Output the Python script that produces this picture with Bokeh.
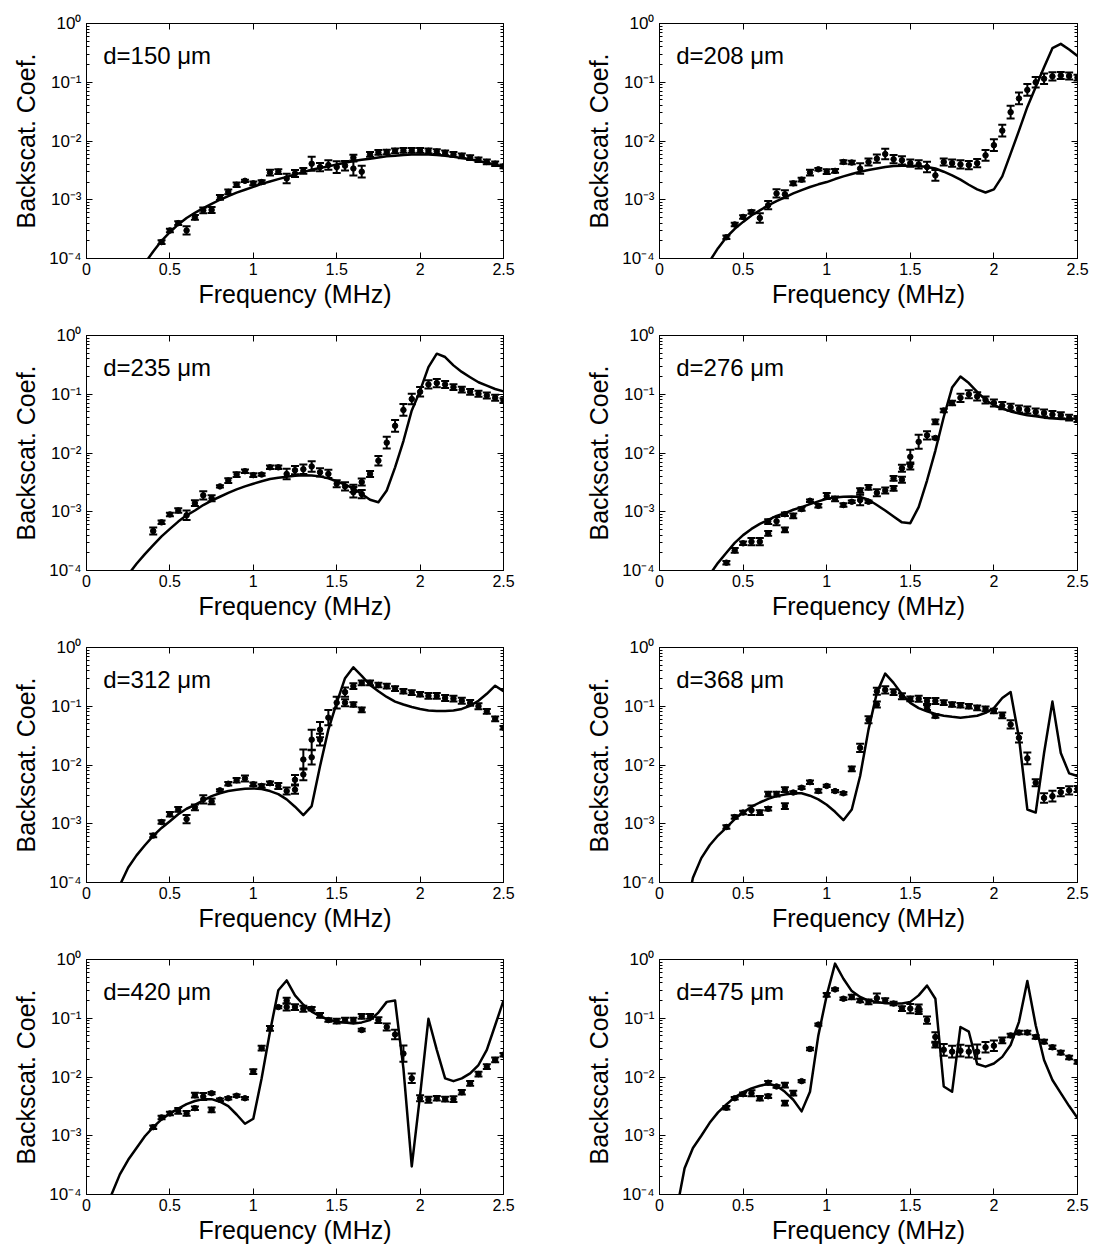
import numpy as np
from bokeh.plotting import figure
from bokeh.models import (Range1d, LinearAxis, LogAxis, FixedTicker, CustomJSTickFormatter,
                          Whisker, TeeHead, ColumnDataSource, Label)
from bokeh.layouts import column, row
from bokeh.embed import file_html
from bokeh.resources import INLINE

# ---------------- data ----------------
LABELS = ["d=150 \u03bcm", "d=208 \u03bcm", "d=235 \u03bcm", "d=276 \u03bcm",
          "d=312 \u03bcm", "d=368 \u03bcm", "d=420 \u03bcm", "d=475 \u03bcm"]

LINE_F = [0.10, 0.15, 0.20, 0.25, 0.30, 0.35, 0.40, 0.45, 0.50, 0.55, 0.60, 0.65, 0.70,
          0.75, 0.80, 0.85, 0.90, 0.95, 1.00, 1.05, 1.10, 1.15, 1.20, 1.25, 1.30, 1.35,
          1.40, 1.45, 1.50, 1.55, 1.60, 1.65, 1.70, 1.75, 1.80, 1.85, 1.90, 1.95, 2.00,
          2.05, 2.10, 2.15, 2.20, 2.25, 2.30, 2.35, 2.40, 2.45, 2.50]

PTS_F = [0.40, 0.45, 0.50, 0.55, 0.60, 0.65, 0.70, 0.75, 0.80, 0.85, 0.90, 0.95, 1.00,
         1.05, 1.10, 1.15, 1.20, 1.25, 1.30, 1.35, 1.40, 1.45, 1.50, 1.55, 1.60, 1.65,
         1.70, 1.75, 1.80, 1.85, 1.90, 1.95, 2.00, 2.05, 2.10, 2.15, 2.20, 2.25, 2.30,
         2.35, 2.40, 2.45, 2.50]

# theory curves (one value per LINE_F)
LINE_150 = [6.3e-7, 3.2e-6, 1.0e-5, 2.5e-5, 5.0e-5, 8.3e-5, 1.32e-4,
            2.0e-4, 2.8e-4, 3.8e-4, 4.9e-4, 6.0e-4, 7.2e-4, 8.5e-4, 1.0e-3, 1.15e-3, 1.32e-3, 1.48e-3, 1.66e-3,
            1.86e-3, 2.04e-3, 2.24e-3, 2.45e-3, 2.7e-3, 2.95e-3, 3.24e-3, 3.47e-3, 3.7e-3, 3.98e-3,
            4.27e-3, 4.57e-3, 4.79e-3, 5.0e-3, 5.25e-3, 5.5e-3, 5.62e-3, 5.75e-3, 5.9e-3, 5.9e-3,
            5.9e-3, 5.75e-3, 5.62e-3, 5.37e-3, 5.13e-3, 4.9e-3, 4.57e-3, 4.27e-3, 3.98e-3, 3.63e-3]
LINE_208 = [2e-6, 8e-6, 2.2e-5, 5e-5, 9e-5, 1.5e-4, 2.3e-4,
            3.2e-4, 4.2e-4, 5.4e-4, 6.6e-4, 8.0e-4, 9.5e-4, 1.1e-3, 1.28e-3, 1.46e-3, 1.65e-3, 1.83e-3, 2.0e-3,
            2.25e-3, 2.5e-3, 2.75e-3, 3.0e-3, 3.2e-3, 3.4e-3, 3.6e-3, 3.75e-3, 3.8e-3, 3.8e-3,
            3.75e-3, 3.6e-3, 3.4e-3, 3.0e-3, 2.6e-3, 2.2e-3, 1.8e-3, 1.5e-3, 1.33e-3, 1.5e-3,
            2.5e-3, 6.1e-3, 1.5e-2, 3.8e-2, 8.3e-2, 0.18, 0.38, 0.45, 0.36, 0.28]
LINE_235 = [3e-6, 1.2e-5, 3.5e-5, 8.5e-5, 1.3e-4, 1.9e-4, 2.7e-4,
            3.8e-4, 5.1e-4, 6.8e-4, 8.7e-4, 1.05e-3, 1.3e-3, 1.55e-3, 1.8e-3, 2.1e-3, 2.4e-3, 2.7e-3, 3.0e-3,
            3.3e-3, 3.6e-3, 3.8e-3, 3.95e-3, 4.1e-3, 4.2e-3, 4.15e-3, 4.0e-3, 3.7e-3, 3.3e-3,
            2.9e-3, 2.5e-3, 2.0e-3, 1.6e-3, 1.45e-3, 2.3e-3, 5.7e-3, 1.6e-2, 5.3e-2, 0.115,
            0.29, 0.49, 0.43, 0.31, 0.24, 0.195, 0.16, 0.14, 0.123, 0.112]
LINE_276 = [1.5e-6, 6e-6, 1.8e-5, 4.5e-5, 8.5e-5, 1.35e-4, 2.0e-4,
            2.95e-4, 4.0e-4, 5.1e-4, 6.2e-4, 7.3e-4, 8.5e-4, 9.5e-4, 1.08e-3, 1.2e-3, 1.35e-3, 1.5e-3, 1.66e-3,
            1.75e-3, 1.8e-3, 1.82e-3, 1.78e-3, 1.6e-3, 1.3e-3, 1.05e-3, 8.3e-4, 6.6e-4, 6.4e-4,
            1.2e-3, 3.4e-3, 1.1e-2, 4.1e-2, 0.13, 0.2, 0.155, 0.11, 0.08, 0.065,
            0.057, 0.051, 0.047, 0.044, 0.042, 0.04, 0.039, 0.038, 0.038, 0.039]
LINE_312 = [2e-6, 1.5e-5, 9e-5, 1.8e-4, 2.9e-4, 4.3e-4, 6.2e-4,
            8.5e-4, 1.1e-3, 1.45e-3, 1.8e-3, 2.1e-3, 2.5e-3, 2.95e-3, 3.3e-3, 3.6e-3, 3.8e-3, 3.95e-3, 4.0e-3,
            3.9e-3, 3.6e-3, 3.2e-3, 2.6e-3, 1.95e-3, 1.4e-3, 2.0e-3, 9.5e-3, 4.0e-2, 0.114,
            0.30, 0.46, 0.33, 0.23, 0.18, 0.144, 0.12, 0.107, 0.097, 0.09,
            0.085, 0.083, 0.083, 0.085, 0.09, 0.102, 0.124, 0.163, 0.224, 0.18]
LINE_368 = [3e-6, 2.5e-5, 1.2e-4, 2.6e-4, 4.3e-4, 6.3e-4, 8.6e-4,
            1.2e-3, 1.55e-3, 1.95e-3, 2.3e-3, 2.65e-3, 2.95e-3, 3.15e-3, 3.3e-3, 3.3e-3, 3.0e-3, 2.6e-3, 2.1e-3,
            1.6e-3, 1.15e-3, 1.75e-3, 6.5e-3, 4.0e-2, 0.17, 0.36, 0.25, 0.16, 0.114,
            0.093, 0.082, 0.074, 0.069, 0.066, 0.064, 0.066, 0.069, 0.077, 0.093,
            0.138, 0.175, 2.9e-2, 1.75e-3, 1.55e-3, 1.6e-2, 0.12, 1.6e-2, 7.2e-3, 6.5e-3]
LINE_420 = [8e-6, 1.0e-4, 2.2e-4, 3.9e-4, 6.2e-4, 9.8e-4, 1.4e-3,
            1.9e-3, 2.4e-3, 2.9e-3, 3.45e-3, 3.9e-3, 4.2e-3, 4.2e-3, 3.8e-3, 3.2e-3, 2.3e-3, 1.6e-3, 1.95e-3,
            9.5e-3, 5.9e-2, 0.3, 0.44, 0.245, 0.17, 0.13, 0.108, 0.095, 0.087,
            0.085, 0.081, 0.085, 0.093, 0.125, 0.19, 0.2, 1.4e-2, 3.0e-4, 4.9e-3,
            0.098, 2.9e-2, 9.5e-3, 8.5e-3, 9.5e-3, 1.15e-2, 1.6e-2, 2.9e-2, 7.6e-2, 0.2]
LINE_475 = [5e-5, 2.8e-4, 6.2e-4, 1.0e-3, 1.66e-3, 2.5e-3, 3.4e-3,
            4.5e-3, 5.5e-3, 6.4e-3, 7.1e-3, 7.6e-3, 7.1e-3, 5.6e-3, 4.1e-3, 2.6e-3, 5.6e-3, 5.1e-2, 0.245,
            0.85, 0.47, 0.29, 0.23, 0.2, 0.19, 0.18, 0.178, 0.178, 0.19,
            0.245, 0.36, 0.215, 6.9e-3, 5.6e-3, 0.071, 0.059, 1.66e-2, 1.5e-2, 1.7e-2,
            2.2e-2, 3.5e-2, 8.7e-2, 0.43, 0.076, 1.95e-2, 8.9e-3, 5.3e-3, 3.2e-3, 2.0e-3]

# measured points (one value per PTS_F) and error half-widths (decades)
PTS_150 = [None, 1.9e-4, 3.0e-4, 4.0e-4, 3.0e-4, 5.0e-4, 6.6e-4, 6.7e-4, 1.1e-3, 1.36e-3, 1.8e-3, 2.1e-3, 1.9e-3,
           2.0e-3, 2.9e-3, 3.0e-3, 2.3e-3, 2.8e-3, 3.1e-3, 4.1e-3, 3.6e-3, 3.9e-3, 3.6e-3, 3.8e-3, 3.4e-3, 3.0e-3,
           5.9e-3, 6.4e-3, 6.5e-3, 6.8e-3, 6.9e-3, 6.9e-3, 6.9e-3, 6.8e-3, 6.6e-3, 6.3e-3, 5.9e-3, 5.6e-3, 5.2e-3,
           4.8e-3, 4.4e-3, 4.1e-3, 3.7e-3]
ERR_150 = [0, .03, .03, .03, .07, .04, .05, .05, .04, .04, .04, .02, .03,
           .03, .05, .04, .08, .06, .05, .12, .07, .08, .10, .08, .12, .10,
           .04, .04, .04, .04, .04, .04, .04, .04, .04, .04, .04, .04, .04,
           .04, .04, .04, .03]
PTS_208 = [2.3e-4, 3.8e-4, 5.1e-4, 6.2e-4, 4.9e-4, 8.1e-4, 1.28e-3, 1.24e-3, 1.9e-3, 2.2e-3, 2.9e-3, 3.3e-3, 3.0e-3,
           3.1e-3, 4.4e-3, 4.3e-3, 3.4e-3, 4.4e-3, 5.0e-3, 6.0e-3, 4.9e-3, 4.7e-3, 4.2e-3, 4.0e-3, 3.6e-3, 2.6e-3,
           4.4e-3, 4.2e-3, 4.0e-3, 3.9e-3, 4.2e-3, 5.7e-3, 8.5e-3, 1.5e-2, 3.1e-2, 5.3e-2, 7.4e-2, 0.10, 0.115,
           0.126, 0.13, 0.128, 0.12]
ERR_208 = [.03, .03, .03, .03, .08, .07, .07, .07, .03, .03, .05, .02, .04,
           .03, .03, .03, .09, .06, .07, .09, .07, .07, .06, .07, .09, .09,
           .06, .06, .07, .07, .07, .09, .10, .10, .11, .10, .10, .09, .09,
           .07, .06, .06, .05]
PTS_235 = [4.7e-4, 6.6e-4, 9.0e-4, 1.05e-3, 8.7e-4, 1.4e-3, 1.9e-3, 1.7e-3, 2.7e-3, 3.4e-3, 4.3e-3, 4.9e-3, 4.2e-3,
           4.3e-3, 5.7e-3, 5.7e-3, 4.4e-3, 5.1e-3, 5.3e-3, 5.9e-3, 4.7e-3, 4.4e-3, 3.0e-3, 2.7e-3, 2.15e-3, 3.2e-3,
           4.4e-3, 7.4e-3, 1.5e-2, 2.9e-2, 5.4e-2, 8.3e-2, 0.11, 0.147, 0.155, 0.147, 0.132, 0.12, 0.11,
           0.102, 0.095, 0.087, 0.078]
ERR_235 = [.06, .03, .03, .04, .08, .05, .07, .05, .02, .04, .04, .03, .03,
           .02, .03, .03, .09, .07, .08, .09, .07, .07, .06, .07, .09, .06,
           .05, .08, .10, .10, .10, .09, .08, .07, .07, .06, .05, .05, .05,
           .05, .05, .05, .04]
PTS_276 = [1.36e-4, 2.2e-4, 2.9e-4, 3.1e-4, 3.1e-4, 4.3e-4, 6.9e-4, 4.9e-4, 8.5e-4, 1.11e-3, 1.54e-3, 1.26e-3, 1.85e-3,
           1.66e-3, 1.3e-3, 1.48e-3, 1.58e-3, 1.48e-3, 2.1e-3, 2.3e-3, 2.5e-3, 3.5e-3, 8.6e-3, 1.55e-2, 2.0e-2, 3.4e-2,
           5.3e-2, 7.1e-2, 8.7e-2, 0.10, 0.092, 0.080, 0.071, 0.064, 0.060, 0.056, 0.054, 0.050, 0.048,
           0.045, 0.044, 0.040, 0.038]
ERR_276 = [.03, .04, .03, .06, .06, .04, .07, .04, .04, .03, .02, .03, .05,
           .04, .03, .02, .09, .02, .06, .05, .04, .05, .12, .12, .07, .04,
           .03, .04, .07, .07, .07, .06, .06, .06, .06, .06, .06, .06, .06,
           .06, .05, .05, .05]
PTS_312 = [6.3e-4, 1.07e-3, 1.45e-3, 1.75e-3, 1.2e-3, 1.9e-3, 2.6e-3, 2.4e-3, 3.7e-3, 4.8e-3, 5.5e-3, 5.9e-3, 4.7e-3,
           4.4e-3, 4.9e-3, 4.4e-3, 3.6e-3, 5.6e-3, 1.24e-2, 2.7e-2, 4.0e-2, 6.4e-2, 0.115, 0.174, 0.22, 0.25,
           0.25, 0.23, 0.22, 0.20, 0.18, 0.17, 0.16, 0.15, 0.15, 0.138, 0.135, 0.124, 0.114,
           0.10, 0.082, 0.061, 0.043]
ERR_312 = [.03, .03, .04, .04, .07, .05, .07, .05, .02, .03, .04, .05, .03,
           .03, .03, .05, .06, .08, .17, .17, .13, .13, .10, .08, .05, .04,
           .04, .04, .04, .04, .04, .04, .04, .05, .05, .05, .05, .05, .05,
           .05, .04, .04, .03]
PTS_368 = [8.8e-4, 1.3e-3, 1.55e-3, 1.7e-3, 1.55e-3, 3.2e-3, 3.2e-3, 3.8e-3, 3.4e-3, 4.1e-3, 5.1e-3, 3.6e-3, 4.4e-3,
           3.6e-3, 3.3e-3, 8.6e-3, 1.96e-2, 5.9e-2, 0.18, 0.19, 0.174, 0.148, 0.134, 0.134, 0.123, 0.123,
           0.115, 0.107, 0.104, 0.10, 0.094, 0.09, 0.083, 0.07, 0.049, 2.9e-2, 1.3e-2, 5.0e-3, 2.75e-3,
           2.95e-3, 3.45e-3, 3.7e-3, 3.9e-3]
ERR_368 = [.03, .03, .03, .08, .04, .04, .04, .04, .02, .02, .03, .03, .02,
           .02, .02, .04, .07, .06, .06, .06, .05, .05, .04, .05, .05, .05,
           .04, .04, .04, .04, .04, .04, .04, .05, .07, .08, .10, .06, .08,
           .09, .07, .07, .05]
PTS_420 = [1.4e-3, 2.05e-3, 2.4e-3, 2.65e-3, 2.4e-3, 2.95e-3, 4.65e-3, 2.75e-3, 4.1e-3, 4.35e-3, 4.8e-3, 4.35e-3, 1.23e-2,
           3.1e-2, 6.7e-2, 0.155, 0.20, 0.155, 0.145, 0.145, 0.112, 0.093, 0.089, 0.093, 0.093, 0.063,
           0.108, 0.093, 0.071, 0.053, 2.5e-2, 9.5e-3, 4.35e-3, 4.1e-3, 4.35e-3, 4.2e-3, 4.2e-3, 5.5e-3, 7.8e-3,
           1.12e-2, 1.5e-2, 1.95e-2, 2.4e-2]
ERR_420 = [.03, .03, .03, .05, .04, .03, .06, .04, .02, .02, .02, .02, .04,
           .04, .04, .02, .05, .05, .05, .03, .04, .03, .04, .04, .04, .02,
           .04, .05, .06, .08, .14, .08, .05, .05, .04, .04, .05, .04, .04,
           .04, .04, .04, .03]
PTS_475 = [3.0e-3, 4.35e-3, 5.1e-3, 5.3e-3, 4.35e-3, 8.0e-3, 6.9e-3, 7.3e-3, 5.3e-3, 8.5e-3, 3.0e-2, 7.8e-2, 0.25,
           0.31, 0.215, 0.23, 0.20, 0.19, 0.22, 0.20, 0.178, 0.146, 0.146, 0.15, 0.093, 4.8e-2,
           2.9e-2, 2.7e-2, 2.8e-2, 2.7e-2, 2.7e-2, 3.2e-2, 3.4e-2, 4.2e-2, 5.1e-2, 5.7e-2, 5.7e-2, 4.8e-2, 4.0e-2,
           3.2e-2, 2.6e-2, 2.15e-2, 1.8e-2]
ERR_475 = [.03, .02, .03, .05, .04, .03, .02, .04, .04, .02, .02, .02, .03,
           .02, .02, .04, .03, .04, .08, .04, .03, .04, .08, .06, .06, .08,
           .10, .10, .10, .10, .12, .09, .09, .05, .03, .03, .03, .03, .03,
           .03, .03, .03, .03]

# second set of points where two measurement bands overlap
EXTRA_F = {150: [1.60], 208: [], 235: [1.60, 1.65],
           276: [0.65, 0.75, 1.20, 1.25, 1.40, 1.45, 1.50, 1.65],
           312: [1.25, 1.30, 1.35, 1.40, 1.55, 1.60, 1.65],
           368: [0.65, 0.75, 1.30, 1.60, 1.65], 420: [0.65, 0.75, 1.20, 1.65],
           475: [0.65, 0.75, 1.55, 1.65]}
EXTRA_V = {150: [5.2e-3], 208: [], 235: [2.5e-3, 2.0e-3],
           276: [6.8e-4, 9.1e-4, 2.3e-3, 2.6e-3, 3.7e-3, 5.5e-3, 6.0e-3, 1.8e-2],
           312: [3.8e-3, 6.9e-3, 1.35e-2, 2.7e-2, 0.115, 0.107, 0.087],
           368: [1.8e-3, 2.0e-3, 0.107, 0.095, 0.068], 420: [4.9e-3, 5.3e-3, 0.155, 0.108],
           475: [4.7e-3, 3.6e-3, 0.13, 3.5e-2]}
EXTRA_E = {150: [.05], 208: [], 235: [.06, .07],
           276: [.04, .03, .04, .04, .04, .06, .06, .02],
           312: [.07, .10, .12, .10, .06, .04, .04],
           368: [.03, .05, .05, .04, .03], 420: [.04, .02, .06, .04],
           475: [.03, .04, .04, .04]}

DIAMS = [150, 208, 235, 276, 312, 368, 420, 475]
LINES = [LINE_150, LINE_208, LINE_235, LINE_276, LINE_312, LINE_368, LINE_420, LINE_475]
PTS = [PTS_150, PTS_208, PTS_235, PTS_276, PTS_312, PTS_368, PTS_420, PTS_475]
ERRS = [ERR_150, ERR_208, ERR_235, ERR_276, ERR_312, ERR_368, ERR_420, ERR_475]

X_TICKS = [0, 0.5, 1.0, 1.5, 2.0, 2.5]
Y_TICKS = [1e-4, 1e-3, 1e-2, 1e-1, 1.0]

# ---------------- styling ----------------
FONT = "Liberation Sans"
Y_MINOR = [m * 10.0 ** e for e in range(-4, 0) for m in range(2, 10)]

SUP_JS = """
const m = {'-':'\\u207B','0':'\\u2070','1':'\\u00B9','2':'\\u00B2','3':'\\u00B3','4':'\\u2074',
           '5':'\\u2075','6':'\\u2076','7':'\\u2077','8':'\\u2078','9':'\\u2079'};
const e = Math.round(Math.log10(tick));
return '10' + String(e).split('').map(c => m[c]).join('');
"""


def style_axis(ax):
    ax.major_tick_in = 6
    ax.major_tick_out = 0
    ax.minor_tick_in = 3
    ax.minor_tick_out = 0
    ax.axis_line_color = "black"
    ax.axis_line_width = 1
    ax.major_tick_line_color = "black"
    ax.minor_tick_line_color = "black"
    ax.major_label_text_font = FONT
    ax.major_label_text_font_size = "16px"
    ax.major_label_text_color = "black"
    ax.axis_label_text_font = FONT
    ax.axis_label_text_font_size = "25px"
    ax.axis_label_text_font_style = "normal"
    ax.axis_label_text_color = "black"


def make_panel(i):
    left = (i % 2 == 0)
    d = DIAMS[i]
    p = figure(width=540 if left else 560, height=312,
               x_range=Range1d(0, 2.5), y_range=Range1d(1e-4, 1.0),
               y_axis_type="log", output_backend="svg", toolbar_location=None,
               min_border_left=86 if left else 119, min_border_right=37 if left else 23,
               min_border_top=23, min_border_bottom=54,
               background_fill_color="white", border_fill_color="white")
    p.xgrid.visible = False
    p.ygrid.visible = False
    p.outline_line_color = "black"
    p.outline_line_width = 1

    xa = p.xaxis[0]
    xa.ticker = FixedTicker(ticks=X_TICKS)
    xa.formatter = CustomJSTickFormatter(code="return String(tick);")
    xa.axis_label = "Frequency (MHz)"
    style_axis(xa)
    xa.minor_tick_line_color = None
    xa.major_label_standoff = 4
    xa.axis_label_standoff = 2

    ya = p.yaxis[0]
    ya.ticker = FixedTicker(ticks=Y_TICKS, minor_ticks=Y_MINOR)
    ya.formatter = CustomJSTickFormatter(code=SUP_JS)
    ya.axis_label = "Backscat. Coef."
    style_axis(ya)
    ya.major_label_text_font_size = "17px"
    ya.major_label_standoff = 5
    ya.axis_label_standoff = 6

    top = LinearAxis(ticker=FixedTicker(ticks=X_TICKS),
                     formatter=CustomJSTickFormatter(code="return '';"))
    style_axis(top)
    top.minor_tick_line_color = None
    top.major_label_text_font_size = "1px"
    top.major_label_standoff = 0
    p.add_layout(top, "above")

    right = LogAxis(ticker=FixedTicker(ticks=Y_TICKS, minor_ticks=Y_MINOR),
                    formatter=CustomJSTickFormatter(code="return '';"))
    style_axis(right)
    right.major_label_text_font_size = "1px"
    right.major_label_standoff = 0
    p.add_layout(right, "right")

    # theory curve
    p.line(LINE_F, LINES[i], line_color="black", line_width=2.5, line_join="round")

    # measurements
    f = [x for x, v in zip(PTS_F, PTS[i]) if v is not None] + EXTRA_F[d]
    v = [v for v in PTS[i] if v is not None] + EXTRA_V[d]
    e = [e for e, vv in zip(ERRS[i], PTS[i]) if vv is not None] + EXTRA_E[d]
    v_arr = np.array(v)
    e_arr = np.array(e)
    src = ColumnDataSource(dict(f=f, v=v, lo=v_arr * 10.0 ** (-e_arr), up=v_arr * 10.0 ** e_arr))
    w = Whisker(source=src, base="f", lower="lo", upper="up", dimension="height",
                line_color="black", line_width=2,
                upper_head=TeeHead(size=8, line_color="black", line_width=2),
                lower_head=TeeHead(size=8, line_color="black", line_width=2))
    p.add_layout(w)
    p.scatter("f", "v", source=src, size=5.5, color="black")

    p.add_layout(Label(x=0.1, y=0.28, text=LABELS[i], text_font=FONT,
                       text_font_size="24px", text_baseline="middle", text_color="black"))
    return p


panels = [make_panel(i) for i in range(8)]
layout = column(row(panels[0], panels[1]), row(panels[2], panels[3]),
                row(panels[4], panels[5]), row(panels[6], panels[7]))

open("out.html", "w", encoding="utf-8").write(file_html(layout, INLINE, title="Backscatter coefficients"))
